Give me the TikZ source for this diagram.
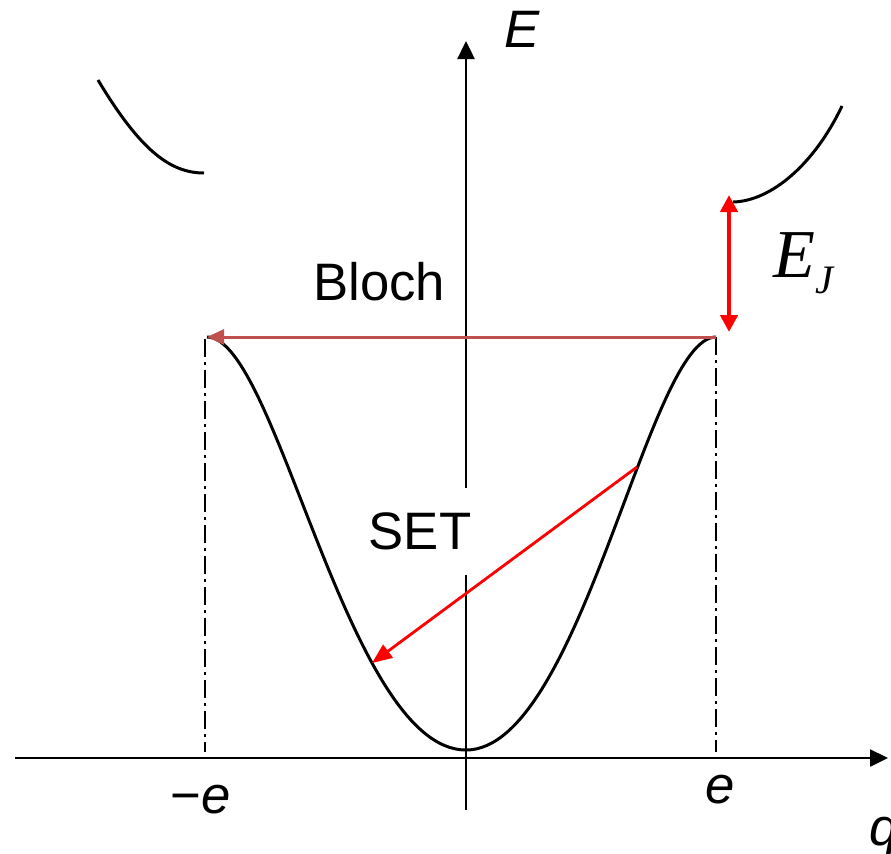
\documentclass[tikz,border=0pt]{standalone}
\usepackage{fontspec}
\setmainfont{Liberation Sans}
\newfontfamily\serifit{Liberation Serif}
\usetikzlibrary{arrows.meta,positioning,calc}
\definecolor{blochRed}{HTML}{C0504D}
\definecolor{setRed}{HTML}{FF0000}

\begin{document}
\begin{tikzpicture}[
      x=0.02cm, y=-0.02cm,
      axisarr/.style={-{Triangle[length=0.36cm,width=0.34cm]}, draw=black, line width=1.4pt},
      bandline/.style={draw=black, line width=1.7pt},
      guideline/.style={draw=black, line width=1.5pt,
        dash pattern=on 0.36cm off 0.1cm on 0.06cm off 0.1cm},
      blocharr/.style={-{Triangle[length=0.34cm,width=0.30cm]}, draw=blochRed, line width=1.7pt},
      ejarr/.style={{Triangle[length=0.34cm,width=0.34cm]}-{Triangle[length=0.34cm,width=0.34cm]}, draw=setRed, line width=2.8pt},
      setarr/.style={-{Triangle[length=0.40cm,width=0.32cm]}, draw=setRed, line width=1.6pt},
      lbl/.style={inner sep=0pt, font=\fontsize{30pt}{34pt}\selectfont}
    ]
      \useasboundingbox (0,0) rectangle (891,853);

      % axes
      \coordinate (xstart) at (15,758);
      \coordinate (xend) at (888,758);
      \coordinate (ystart) at (466,810);
      \coordinate (yend) at (466,41);
      \draw[axisarr] (xstart) -- (xend);
      \draw[axisarr] (ystart) -- (yend);

      \node[lbl, anchor=base west] (elabel) at (504,47) {\itshape E};
      \node[lbl, anchor=base west] (qlabel) at (869,845) {\itshape q};
      \node[lbl, anchor=base west] (mlabel) at (170,813) {−\textit{e}};
      \node[lbl, anchor=base west] (plabel) at (705,803) {\itshape e};

      % band edges
      \coordinate (qm) at (207,337);
      \coordinate (qp) at (716,337);
      \coordinate (qmin) at (466,750);
      \coordinate (qmb) at (205,752);
      \coordinate (qpb) at (716,752);
      \draw[guideline] (205,339) -- (qmb);
      \draw[guideline] (qp) -- (qpb);

      % lowest band
      \draw[bandline] (qm) .. controls (277,337) and (347,750) .. (qmin)
        .. controls (581,750) and (648,337) .. (qp);

      % upper band
      \draw[bandline] (98,80) .. controls (140,150) and (170,173) .. (204,173);
      \draw[bandline] (733,202) .. controls (772,201) and (815,163) .. (842,106);

      % labels
      \node[lbl, anchor=base west] (bloch) at (313,300) {Bloch};
      \node[lbl, fill=white, text height=0.74cm, text depth=0pt,
            minimum height=1.74cm, inner xsep=0.1cm] (set) at (420,531) {SET};
      \node[anchor=base west, inner sep=0pt, font=\fontsize{39pt}{42pt}\selectfont] (ej) at (773,277)
        {\serifit\itshape E\raisebox{-0.32cm}{\fontsize{23pt}{26pt}\selectfont J}};

      % transitions
      \coordinate (ejtop) at (729,195);
      \coordinate (ejbot) at (729,332);
      \coordinate (setfrom) at (637,467);
      \coordinate (setto) at (372,663);
      \draw[blocharr] (qp) -- (qm);
      \draw[ejarr] (ejtop) -- (ejbot);
      \draw[setarr] (setfrom) -- (setto);
    \end{tikzpicture}
\end{document}
